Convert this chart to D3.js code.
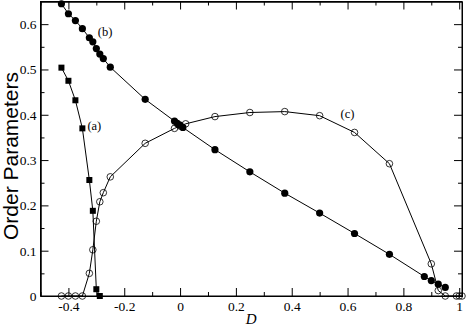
<!DOCTYPE html>
<html>
<head>
<meta charset="utf-8">
<script src="https://cdn.jsdelivr.net/npm/d3@7"></script>
<style>
  html, body { margin: 0; padding: 0; background: #fff; }
  svg { display: block; }
  .serif { font-family: "Liberation Serif", "Times New Roman", serif; }
</style>
</head>
<body>
<svg id="chart" width="466" height="327"></svg>
<script>
// ---- data ----
const seriesA_D   = [-0.425, -0.4, -0.375, -0.35, -0.325, -0.3125, -0.3, -0.2875];
const seriesA_val = [0.504, 0.475, 0.432, 0.370, 0.256, 0.188, 0.015, 0.0];

const seriesB_D   = [-0.425, -0.4, -0.375, -0.35, -0.325, -0.3125, -0.3, -0.2875, -0.275, -0.25, -0.125,
                     -0.02, -0.01, 0, 0.01, 0.125, 0.25, 0.375, 0.5, 0.625, 0.75, 0.875, 0.9, 0.925, 0.95];
const seriesB_val = [0.645, 0.623, 0.608, 0.590, 0.570, 0.561, 0.546, 0.534, 0.524, 0.505, 0.434,
                     0.386, 0.381, 0.377, 0.372, 0.323, 0.274, 0.227, 0.183, 0.138, 0.092, 0.043, 0.034, 0.026, 0.019];

const seriesC_D   = [-0.425, -0.4, -0.375, -0.35, -0.325, -0.3125, -0.3, -0.2875, -0.275, -0.25, -0.125,
                     -0.02, 0, 0.02, 0.125, 0.25, 0.375, 0.5, 0.625, 0.75, 0.9, 0.925, 0.95, 0.99, 1.0, 1.01];
const seriesC_val = [0, 0, 0, 0, 0.050, 0.102, 0.165, 0.208, 0.228, 0.263, 0.337,
                     0.370, 0.375, 0.380, 0.396, 0.405, 0.407, 0.398, 0.361, 0.292, 0.071, 0.012, 0, 0, 0, 0];

const xTickValues = [-0.4, -0.2, 0, 0.2, 0.4, 0.6, 0.8, 1.0];
const xTickLabels = ["-0.4", "-0.2", "0", "0.2", "0.4", "0.6", "0.8", "1"];
const xMinorTicks = [-0.5, -0.3, -0.1, 0.1, 0.3, 0.5, 0.7, 0.9];
const yTickValues = [0, 0.1, 0.2, 0.3, 0.4, 0.5, 0.6];
const yTickLabels = ["0", "0.1", "0.2", "0.3", "0.4", "0.5", "0.6"];
const yMinorTicks = [0.05, 0.15, 0.25, 0.35, 0.45, 0.55];

const curveLabels = [
  { text: "(a)", D: -0.332, v: 0.366 },
  { text: "(b)", D: -0.295, v: 0.574 },
  { text: "(c)", D: 0.575, v: 0.393 }
];

// ---- layout ----
const svg = d3.select("#chart");
const L = 40.5, R = 462, T = 1.5, B = 296;
const x = d3.scaleLinear().domain([-0.5, 1.01]).range([L, R]);
const y = d3.scaleLinear().domain([0, 0.65]).range([B, T]);

function axisStyle(g) {
  g.attr("font-family", null).attr("font-size", null);
  g.selectAll("path").attr("stroke", "#000").attr("stroke-width", 1);
  g.selectAll("line").attr("stroke", "#000").attr("stroke-width", 1);
  g.selectAll("text").attr("class", "serif").style("font-size", "13.5px").attr("fill", "#000");
}

// bottom axis
svg.append("g").attr("transform", `translate(0,${B})`)
  .call(d3.axisBottom(x).tickValues(xTickValues).tickFormat((d, i) => xTickLabels[i])
        .tickSize(-8).tickSizeOuter(0).tickPadding(5))
  .call(axisStyle);
svg.append("g").attr("transform", `translate(0,${B})`)
  .call(d3.axisBottom(x).tickValues(xMinorTicks).tickFormat("").tickSize(-4).tickSizeOuter(0))
  .call(axisStyle);
// top axis
svg.append("g").attr("transform", `translate(0,${T})`)
  .call(d3.axisTop(x).tickValues(xTickValues).tickFormat("").tickSize(-8).tickSizeOuter(0))
  .call(axisStyle);
svg.append("g").attr("transform", `translate(0,${T})`)
  .call(d3.axisTop(x).tickValues(xMinorTicks).tickFormat("").tickSize(-4).tickSizeOuter(0))
  .call(axisStyle);
// left axis
svg.append("g").attr("transform", `translate(${L},0)`)
  .call(d3.axisLeft(y).tickValues(yTickValues).tickFormat((d, i) => yTickLabels[i])
        .tickSize(-8).tickSizeOuter(0).tickPadding(4))
  .call(axisStyle);
svg.append("g").attr("transform", `translate(${L},0)`)
  .call(d3.axisLeft(y).tickValues(yMinorTicks).tickFormat("").tickSize(-4).tickSizeOuter(0))
  .call(axisStyle);
// right axis
svg.append("g").attr("transform", `translate(${R},0)`)
  .call(d3.axisRight(y).tickValues(yTickValues).tickFormat("").tickSize(-8).tickSizeOuter(0))
  .call(axisStyle);
svg.append("g").attr("transform", `translate(${R},0)`)
  .call(d3.axisRight(y).tickValues(yMinorTicks).tickFormat("").tickSize(-4).tickSizeOuter(0))
  .call(axisStyle);

// frame
svg.append("rect").attr("x", L).attr("y", T).attr("width", R - L).attr("height", B - T)
  .attr("fill", "none").attr("stroke", "#000").attr("stroke-width", 1);

// axis titles
svg.append("text").attr("x", (L + R) / 2).attr("y", 324)
  .attr("text-anchor", "middle").attr("class", "serif")
  .style("font-style", "italic").style("font-size", "15px").text("D");
svg.append("text").attr("transform", "translate(18,156) rotate(-90)")
  .attr("text-anchor", "middle")
  .style("font-family", "'Liberation Sans', Arial, sans-serif")
  .style("font-size", "21px").text("Order Parameters");

// ---- series ----
const line = d3.line().x(d => x(d[0])).y(d => y(d[1]));
const A = seriesA_D.map((d, i) => [d, seriesA_val[i]]);
const Bs = seriesB_D.map((d, i) => [d, seriesB_val[i]]);
const C = seriesC_D.map((d, i) => [d, seriesC_val[i]]);

[A, Bs, C].forEach(data => {
  svg.append("path").datum(data).attr("d", line)
    .attr("fill", "none").attr("stroke", "#000").attr("stroke-width", 1);
});

// open circles (c)
svg.append("g").selectAll("circle").data(C).join("circle")
  .attr("cx", d => x(d[0])).attr("cy", d => y(d[1])).attr("r", 3.3)
  .attr("fill", "none").attr("stroke", "#000").attr("stroke-width", 0.8);

// filled circles (b)
svg.append("g").selectAll("circle").data(Bs).join("circle")
  .attr("cx", d => x(d[0])).attr("cy", d => y(d[1])).attr("r", 3.6)
  .attr("fill", "#000");

// squares (a)
const sq = 6;
svg.append("g").selectAll("rect").data(A).join("rect")
  .attr("x", d => x(d[0]) - sq / 2).attr("y", d => y(d[1]) - sq / 2)
  .attr("width", sq).attr("height", sq).attr("fill", "#000");

// curve labels
svg.append("g").selectAll("text").data(curveLabels).join("text")
  .attr("x", d => x(d.D)).attr("y", d => y(d.v))
  .attr("class", "serif").style("font-size", "12.5px").attr("fill", "#000").text(d => d.text);
</script>
</body>
</html>
